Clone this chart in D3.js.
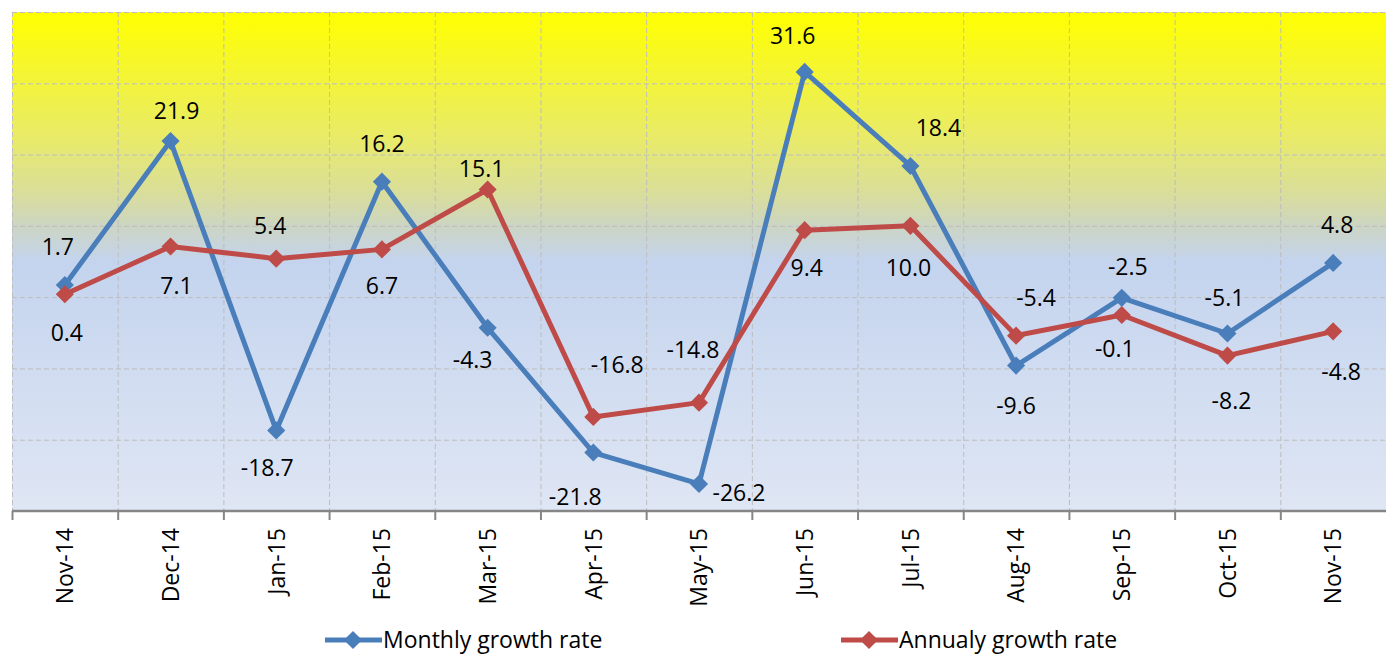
<!DOCTYPE html>
<html>
<head>
<meta charset="utf-8">
<script src="https://cdn.jsdelivr.net/npm/d3@7"></script>
<style>
  body { margin: 0; background: #fff; }
  svg { display: block; font-family: "Open Sans", sans-serif; }
</style>
</head>
<body>
<svg id="chart" width="1386" height="654"></svg>
<script>
const months = ["Nov-14", "Dec-14", "Jan-15", "Feb-15", "Mar-15", "Apr-15", "May-15",
                "Jun-15", "Jul-15", "Aug-14", "Sep-15", "Oct-15", "Nov-15"];
const monthly = [1.7, 21.9, -18.7, 16.2, -4.3, -21.8, -26.2, 31.6, 18.4, -9.6, -0.1, -5.1, 4.8];
const annualy = [0.4, 7.1, 5.4, 6.7, 15.1, -16.8, -14.8, 9.4, 10.0, -5.4, -2.5, -8.2, -4.8];
const yTicks = [-20, -10, 0, 10, 20, 30, 40];

// hand placed data labels (offset from the point, px)
const monthlyLabelPos = [[-7,-38],[6,-30],[-9,37],[0,-38],[-15,32],[-18,44],[40,9],
                         [-12,-36],[28,-38],[0,40],[-7,51],[-3,-36],[4,-38]];
const annualyLabelPos = [[2,38],[6,39],[-6,-33],[0,36],[-6,-21],[24,-52],[-6,-53],
                         [2,38],[-2,42],[20,-38],[6,-48],[4,45],[8,40]];

const width = 1386, height = 654;
const margin = {top: 12, right: 0, bottom: 143, left: 12};
const fs = 23;

const svg = d3.select("#chart");

const x = d3.scaleBand()
  .domain(months)
  .range([margin.left, width - margin.right])
  .padding(0);
const cx = d => x(d) + x.bandwidth() / 2;

const y = d3.scaleLinear()
  .domain([-30, 40])
  .range([height - margin.bottom, margin.top]);

// background gradient
const defs = svg.append("defs");
const grad = defs.append("linearGradient")
  .attr("id", "bg-grad")
  .attr("x1", 0).attr("y1", 0).attr("x2", 0).attr("y2", 1);
[[0, "#ffff00"], [0.26, "#e8ea6c"], [0.37, "#d8dd9e"], [0.43, "#ccd5c4"],
 [0.5, "#c4d4ee"], [1, "#dfe6f4"]]
  .forEach(([o, c]) => grad.append("stop").attr("offset", o).attr("stop-color", c));

svg.append("rect")
  .attr("x", margin.left)
  .attr("y", margin.top)
  .attr("width", width - margin.left - margin.right)
  .attr("height", y(-30) - margin.top)
  .attr("fill", "url(#bg-grad)");

// gridlines
svg.append("g")
  .selectAll("line")
  .data(yTicks)
  .join("line")
    .attr("x1", margin.left).attr("x2", width - margin.right)
    .attr("y1", d => y(d) + 0.5).attr("y2", d => y(d) + 0.5)
    .attr("stroke", "#bdbdbd")
    .attr("stroke-dasharray", "5,3");

svg.append("g")
  .selectAll("line")
  .data(months)
  .join("line")
    .attr("x1", d => x(d) + 0.5).attr("x2", d => x(d) + 0.5)
    .attr("y1", margin.top).attr("y2", y(-30))
    .attr("stroke", "#bdbdbd")
    .attr("stroke-dasharray", "5,3");

// x axis
const xAxis = svg.append("g")
  .attr("transform", `translate(0,${y(-30)})`);
xAxis.append("line")
  .attr("x1", margin.left).attr("x2", width)
  .attr("stroke", "#868686").attr("stroke-width", 2.5);
xAxis.selectAll("line.tick")
  .data(months)
  .join("line")
    .attr("class", "tick")
    .attr("x1", d => x(d) + 0.5).attr("x2", d => x(d) + 0.5)
    .attr("y1", 0).attr("y2", 9)
    .attr("stroke", "#868686").attr("stroke-width", 2);
xAxis.selectAll("text")
  .data(months)
  .join("text")
    .attr("transform", d => `translate(${cx(d)},17) rotate(-90)`)
    .attr("text-anchor", "end")
    .attr("dy", "0.36em")
    .style("font-size", fs + "px")
    .text(d => d);

// series
const series = [
  {name: "Monthly growth rate", values: monthly, labels: monthlyLabelPos, color: "#4a7ebb"},
  {name: "Annualy growth rate", values: annualy, labels: annualyLabelPos, color: "#be4b48"}
];

const line = d3.line()
  .x((d, i) => cx(months[i]))
  .y(d => y(d));

const diamond = d3.symbol().type(d3.symbolDiamond2).size(210);

series.forEach(s => {
  const g = svg.append("g");
  g.append("path")
    .datum(s.values)
    .attr("d", line)
    .attr("fill", "none")
    .attr("stroke", s.color)
    .attr("stroke-width", 5)
    .attr("stroke-linejoin", "round");
  g.selectAll("path.marker")
    .data(s.values)
    .join("path")
      .attr("class", "marker")
      .attr("transform", (d, i) => `translate(${cx(months[i])},${y(d)})`)
      .attr("d", diamond)
      .attr("fill", s.color);
});

// labels on top
series.forEach(s => {
  svg.append("g")
    .selectAll("text")
    .data(s.values)
    .join("text")
      .attr("x", (d, i) => cx(months[i]) + s.labels[i][0])
      .attr("y", (d, i) => y(d) + s.labels[i][1])
      .attr("dy", "0.36em")
      .attr("text-anchor", "middle")
      .style("font-size", fs + "px")
      .text(d => d.toFixed(1));
});

// legend
const legendPos = [325, 841];
const legend = svg.append("g").attr("transform", "translate(0,640)");
series.forEach((s, i) => {
  const lx = legendPos[i];
  legend.append("line")
    .attr("x1", lx).attr("x2", lx + 57)
    .attr("stroke", s.color).attr("stroke-width", 5);
  legend.append("path")
    .attr("transform", `translate(${lx + 28},0)`)
    .attr("d", diamond)
    .attr("fill", s.color);
  legend.append("text")
    .attr("x", lx + 58)
    .attr("dy", "0.36em")
    .style("font-size", "23px")
    .text(s.name);
});
</script>
</body>
</html>
